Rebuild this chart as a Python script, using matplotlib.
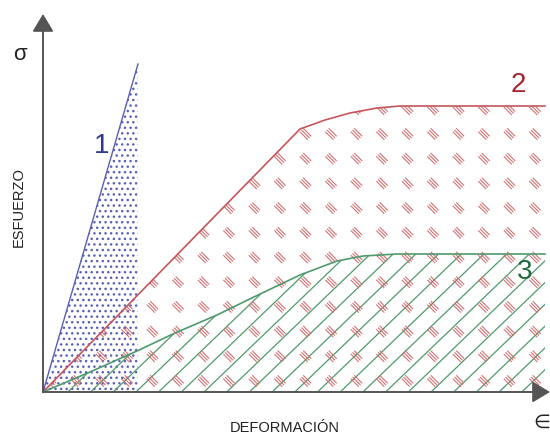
import numpy as np
import matplotlib.pyplot as plt
from matplotlib.patches import Polygon
from matplotlib.collections import LineCollection

plt.rcParams['font.family'] = ['Liberation Sans', 'DejaVu Sans']
plt.rcParams['hatch.linewidth'] = 1.0

# curve 1 (steep, brittle)
x1 = [0, 95]
y1 = [0, 328]
# curve 2 (linear then yield plateau)
x2 = [0, 257, 282, 307, 334, 357, 380, 502]
y2 = [0, 263, 272, 279, 284, 286, 286, 286]
# curve 3 (soft curve then plateau)
x3 = [0, 47, 94, 132, 174, 215, 257, 294, 320, 354, 502]
y3 = [0, 20, 41, 59, 77, 97, 117, 131, 136, 138, 138]

blue = '#5a5fb4'
red = '#c4565a'
green = '#4f9a6c'

fig = plt.figure(figsize=(5.5, 4.35), dpi=100)
ax = fig.add_axes([0, 0, 1, 1])
ax.set_xlim(-43, 507)
ax.set_ylim(-42, 393)
ax.axis('off')

# region polygons
poly2 = Polygon(list(zip(x2, y2)) + [(x2[-1], 0)], closed=True)
poly3 = Polygon(list(zip(x3, y3)) + [(x3[-1], 0)], closed=True)

# green diagonal hatch
lines = []
for c in np.arange(-520, 520, 22.7):
    lines.append([(c, 0), (c + 400 / 0.96, 400)])
lc_g = LineCollection(lines, colors=green, linewidths=0.9)
ax.add_collection(lc_g)
poly3.set_transform(ax.transData)
lc_g.set_clip_path(poly3)

# red dashed marks
marks = []
d = 4.0
off = 2.4
for cx in np.arange(7.5, 520, 25.5):
    for cy in np.arange(11, 400, 24.7):
        for k in (-1, 0, 1):
            ox, oy = k * off * 0.707, k * off * 0.707
            marks.append([(cx - d + ox, cy + d + oy), (cx + d + ox, cy - d + oy)])
lc_r = LineCollection(marks, colors='#d06a6d', linewidths=0.75)
ax.add_collection(lc_r)
poly2.set_transform(ax.transData)
lc_r.set_clip_path(poly2)

# dotted fill for curve 1
ax.fill(list(x1) + [x1[-1]], list(y1) + [0], facecolor='none',
        edgecolor='#5a60b8', hatch='...', linewidth=0)

ax.plot(x1, y1, color=blue, lw=1.0)
ax.plot(x2, y2, color=red, lw=1.2)
ax.plot(x3, y3, color=green, lw=1.2)

# axes with arrows
arrow = dict(arrowstyle='-|>,head_length=0.83,head_width=0.5',
             color='#555555', lw=1.4, mutation_scale=13, shrinkA=0, shrinkB=0)
ax.annotate('', xy=(0, 378), xytext=(0, 0), arrowprops=arrow)
ax.annotate('', xy=(507, 0), xytext=(0, 0), arrowprops=arrow)

ax.text(-23, 338, 'σ', fontsize=16, ha='center', va='center', color='#222222')
ax.text(-24, 186, 'ESFUERZO', fontsize=10.5, rotation=90, ha='center', va='center',
        color='#222222')
ax.text(242, -35, 'DEFORMACIÓN', fontsize=10.5, ha='center', va='center',
        color='#222222')
ax.text(499, -30, '∈', fontsize=14, ha='center', va='center', color='#222222')

ax.text(59, 247, '1', fontsize=20, ha='center', va='center', color='#2b3990')
ax.text(475, 308, '2', fontsize=20, ha='center', va='center', color='#a8232b')
ax.text(482, 121, '3', fontsize=20, ha='center', va='center', color='#1e6b3a')

fig.savefig('out.png', dpi=100)
